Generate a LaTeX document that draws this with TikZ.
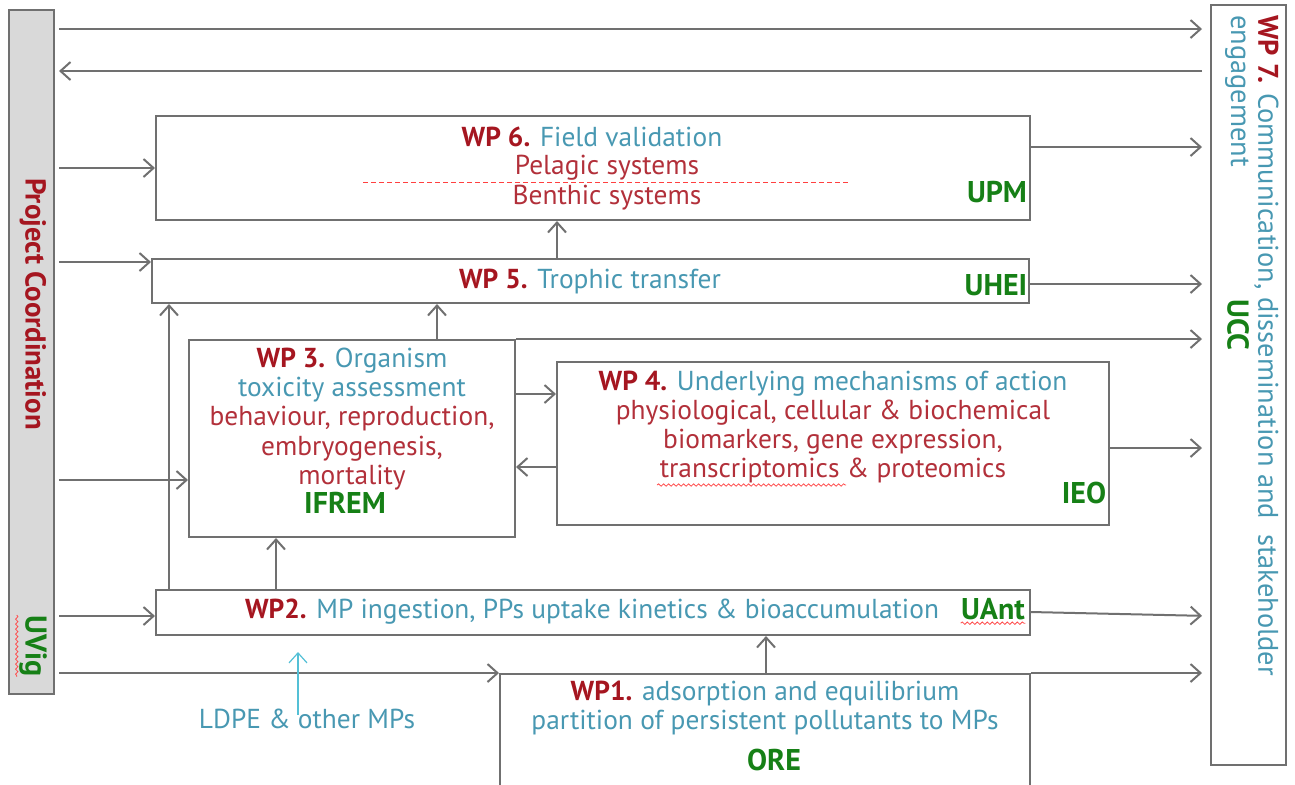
\documentclass[tikz,border=0pt]{standalone}
\usepackage{fontspec}
\setmainfont{PT Sans}
\usetikzlibrary{arrows.meta,decorations.pathmorphing}
\definecolor{wpred}{RGB}{165,22,32}
\definecolor{txtred}{RGB}{178,48,58}
\definecolor{txtblue}{RGB}{72,152,178}
\definecolor{orggreen}{RGB}{22,128,22}
\definecolor{ldpeblue}{RGB}{84,192,214}
\definecolor{linegray}{RGB}{112,112,112}
\definecolor{barfill}{RGB}{217,217,217}
\tikzset{
	wpbox/.style={draw=linegray,line width=1pt,inner sep=0pt},
	conn/.style={draw=linegray,line width=1pt,-{Straight Barb[length=5pt,width=9pt]}},
	txt/.style={font=\fontsize{13.7}{14.6}\selectfont,inner sep=0pt,align=center},
	org/.style={font=\fontsize{15}{16}\selectfont\bfseries,text=orggreen,inner sep=0pt},
	spell/.style={draw=red!70,line width=0.4pt,decorate,decoration={snake,amplitude=0.6pt,segment length=2.5pt}}
}
\newcommand{\wpl}[1]{\textcolor{wpred}{\bfseries #1}}
\begin{document}
\begin{tikzpicture}[x=0.5pt,y=-0.5pt]
	\clip (0,0) rectangle (1295,784);
	\node[wpbox,fill=barfill,minimum width=22.5pt,minimum height=342pt] (pc) at (31.5,352) {};
	\node[wpbox,minimum width=37.5pt,minimum height=380pt] (wp7) at (1248.5,385) {};
	\node[wpbox,minimum width=437pt,minimum height=52pt] (wp6) at (593,168) {};
	\node[wpbox,minimum width=438.5pt,minimum height=22pt] (wp5) at (590.5,281) {};
	\node[wpbox,minimum width=163pt,minimum height=98.5pt] (wp3) at (352,438.5) {};
	\node[wpbox,minimum width=276pt,minimum height=81.5pt] (wp4) at (833,443.5) {};
	\node[wpbox,minimum width=437pt,minimum height=22.5pt] (wp2) at (593,612.5) {};
	\node[wpbox,minimum width=265pt,minimum height=63pt] (wp1) at (765,737) {};

	\node[txt,rotate=-90,text=wpred,font=\fontsize{14.4}{15}\selectfont\bfseries] (pctext) at (33,304) {Project Coordination};
	\node[org,rotate=-90] (uvig) at (33,646) {UVig};
	\node[txt,rotate=-90,anchor=north west,align=left,text=txtblue,font=\fontsize{14.2}{13.6}\selectfont] (t7) at (1279,15) {\wpl{WP 7.} Communication, dissemination and\ \ stakeholder\\engagement};
	\node[org,rotate=-90] (ucc) at (1238,325) {UCC};

	\node[txt,text=txtblue] (t6) at (592,137) {\wpl{WP 6.} Field validation};
	\node[txt,text=txtred] (pel) at (607,168) {Pelagic systems};
	\node[txt,text=txtred] (ben) at (607,198) {Benthic systems};
	\node[org] (upm) at (997,192) {UPM};
	\node[txt,text=txtblue] (t5) at (590,281) {\wpl{WP 5.} Trophic transfer};
	\node[org] (uhei) at (996,285) {UHEI};
	\node[txt,text=txtred] (t3) at (352,419) {\wpl{WP 3.} \textcolor{txtblue}{Organism}\\\textcolor{txtblue}{toxicity assessment}\\behaviour, reproduction,\\embryogenesis,\\mortality};
	\node[org] (ifrem) at (345,503) {IFREM};
	\node[txt,text=txtred] (t4) at (833,427) {\wpl{WP 4.} \textcolor{txtblue}{Underlying mechanisms of action}\\physiological, cellular \& biochemical\\biomarkers, gene expression,\\transcriptomics \& proteomics};
	\node[org] (ieo) at (1084,493) {IEO};
	\node[txt,text=txtblue] (t2) at (592,612) {\wpl{WP2.} MP ingestion, PPs uptake kinetics \& bioaccumulation};
	\node[org] (uant) at (993,609) {UAnt};
	\node[txt,text=txtblue] (t1) at (765,708) {\wpl{WP1.} adsorption and equilibrium\\partition of persistent pollutants to MPs};
	\node[org] (ore) at (774,760) {ORE};
	\node[txt,text=txtblue] (ldpe) at (307,719) {LDPE \& other MPs};

	\draw[red!75,line width=0.5pt,dash pattern=on 2.5pt off 1.5pt] (363,182) -- (848,182);
	\draw[spell] ([xshift=-1pt]uvig.south west) -- ([xshift=-1pt]uvig.south east);
	\draw[spell] ([yshift=-1.5pt]uant.south west) -- ([yshift=-1.5pt]uant.south east);
	\draw[spell] (657,485) -- (846,485);

	\coordinate (up6) at (557,0);
	\coordinate (up5) at (437,0);
	\coordinate (up5b) at (169,0);
	\coordinate (up3) at (276,0);
	\coordinate (up2) at (766,0);
	\coordinate (mpin) at (298,652);

	\draw[conn,shorten <=2pt,shorten >=4pt] (pc.east |- 0,29) -- (wp7.west |- 0,29);
	\draw[conn,shorten <=4pt,shorten >=2pt] (wp7.west |- 0,71) -- (pc.east |- 0,71);
	\draw[conn,shorten <=2pt] (pc.east |- wp6.west) -- (wp6.west);
	\draw[conn,shorten >=4pt] (wp6.east |- 0,147) -- (wp7.west |- 0,147);
	\draw[conn,shorten <=2pt] (pc.east |- 0,262) -- (wp5.west |- 0,262);
	\draw[conn,shorten >=4pt] (wp5.east |- 0,284) -- (wp7.west |- 0,284);
	\draw[conn] (up6 |- wp5.north) -- (up6 |- wp6.south);
	\draw[conn,shorten >=4pt] (wp3.north east) -- (wp7.west |- wp3.north east);
	\draw[conn] (up5 |- wp3.north) -- (up5 |- wp5.south);
	\draw[conn,shorten <=2pt] (pc.east |- 0,480) -- (wp3.west |- 0,480);
	\draw[conn] (up5b |- wp2.north) -- (up5b |- wp5.south);
	\draw[conn] (up3 |- wp2.north) -- (up3 |- wp3.south);
	\draw[conn] (wp3.east |- 0,394) -- (wp4.west |- 0,394);
	\draw[conn] (wp4.west |- 0,467) -- (wp3.east |- 0,467);
	\draw[conn,shorten >=4pt] (wp4.east |- 0,448) -- (wp7.west |- 0,448);
	\draw[conn,shorten <=2pt] (pc.east |- 0,616) -- (wp2.west |- 0,616);
	\draw[conn,shorten >=4pt] (wp2.east |- 0,612) -- (wp7.west |- 0,616);
	\draw[conn,shorten <=2pt] (pc.east |- wp1.north west) -- (wp1.north west);
	\draw[conn,shorten >=4pt] (wp1.north east) -- (wp7.west |- wp1.north east);
	\draw[conn] (up2 |- wp1.north) -- (up2 |- wp2.south);
	\draw[conn,draw=ldpeblue,line width=0.6pt] ([yshift=-3pt]mpin |- ldpe.north) -- (mpin);
\end{tikzpicture}
\end{document}
